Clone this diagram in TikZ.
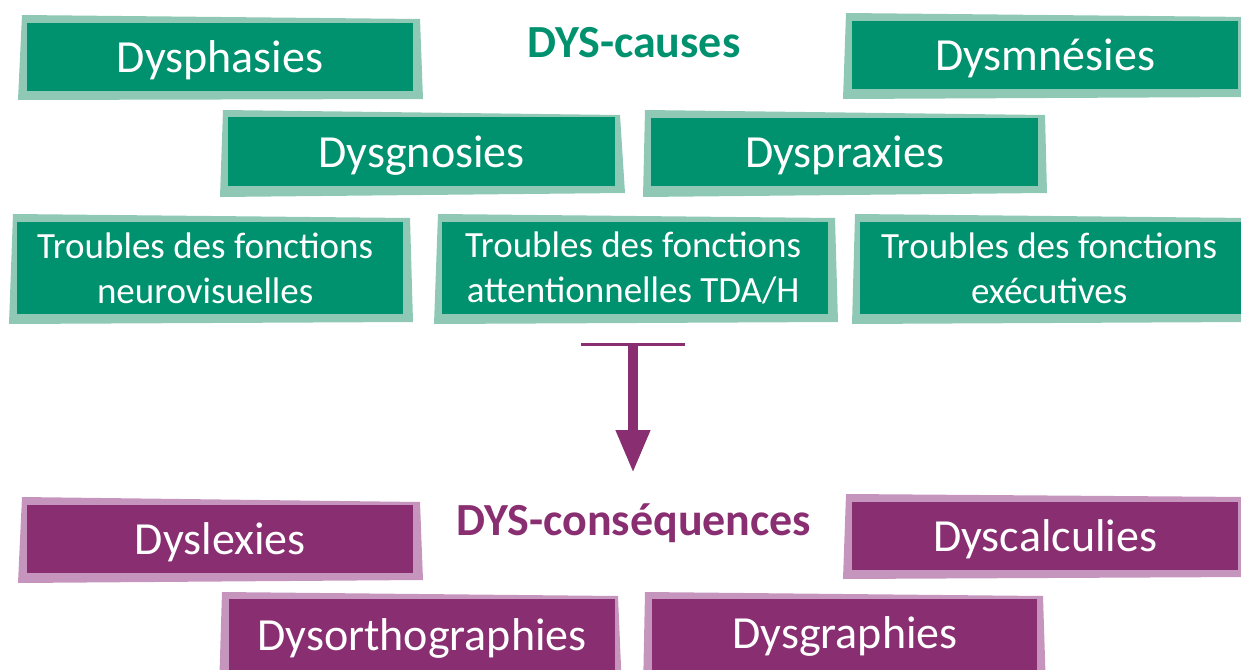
\documentclass[tikz,border=0pt]{standalone}
\usepackage{fontspec}
\setmainfont{Carlito}
\usetikzlibrary{arrows.meta}
\definecolor{gdark}{RGB}{0,145,110}
\definecolor{glight}{RGB}{143,200,181}
\definecolor{pdark}{RGB}{137,46,113}
\definecolor{plight}{RGB}{198,149,189}
\tikzset{
  gbox/.style={fill=gdark, text=white, inner sep=0pt, anchor=north west},
  pbox/.style={fill=pdark, text=white, inner sep=0pt, anchor=north west},
  gframe/.style={fill=glight},
  pframe/.style={fill=plight},
  bigtxt/.style={font=\fontsize{46}{55}\selectfont, text=white, yshift=-3.5pt},
  smalltxt/.style={font=\fontsize{37}{45}\selectfont, align=center, text=white},
  titletxt/.style={font=\fontsize{46}{55}\selectfont\bfseries},
}
\begin{document}
\begin{tikzpicture}[x=1pt,y=-1pt]
\useasboundingbox (0,0) rectangle (1241,669);
\begin{scope}
\clip (0,0) rectangle (1241,669);
% ---------- causes ----------
\fill[gframe] (22,15) -- (420,19) -- (423,99) -- (18,100) -- cycle;
\node[gbox, minimum width=386pt, minimum height=68pt] (dysphasies) at (27,23) {};
\node[bigtxt] at (dysphasies.center) {Dysphasies};

\fill[gframe] (846,13) -- (1250,17) -- (1250,97) -- (843,99) -- cycle;
\node[gbox, minimum width=386pt, minimum height=68pt] (dysmnesies) at (852,21) {};
\node[bigtxt] at (dysmnesies.center) {Dysmnésies};

\fill[gframe] (223,110) -- (620,115) -- (625,193) -- (220,197) -- cycle;
\node[gbox, minimum width=387pt, minimum height=69pt] (dysgnosies) at (228,117) {};
\node[bigtxt] at (dysgnosies.center) {Dysgnosies};

\fill[gframe] (645,110) -- (1045,115) -- (1047,193) -- (643,197) -- cycle;
\node[gbox, minimum width=387pt, minimum height=68pt] (dyspraxies) at (651,118) {};
\node[bigtxt] at (dyspraxies.center) {Dyspraxies};

\fill[gframe] (13,214) -- (410,218) -- (413,322) -- (9,324) -- cycle;
\node[gbox, minimum width=386pt, minimum height=92pt] (neuro) at (17,222) {};
\node[smalltxt] at ([xshift=-5pt]neuro.center) {Troubles des fonctions\\neurovisuelles};

\fill[gframe] (438,214) -- (835,218) -- (838,322) -- (434,324) -- cycle;
\node[gbox, minimum width=386pt, minimum height=92pt] (attent) at (442,222) {};
\node[smalltxt] at ([xshift=-2pt]attent.center) {Troubles des fonctions\\attentionnelles TDA/H};

\fill[gframe] (855,214) -- (1250,218) -- (1250,322) -- (852,324) -- cycle;
\node[gbox, minimum width=390pt, minimum height=92pt] (execut) at (860,222) {};
\node[smalltxt] at ([xshift=-6pt]execut.center) {Troubles des fonctions\\exécutives};

\node[titletxt, text=gdark] (causes) at (634,43) {DYS-causes};

% ---------- arrow ----------
\coordinate (barl) at (581,344);
\coordinate (barr) at (685,344);
\coordinate (barc) at (633,344);
\coordinate (tip) at (633,473);
\draw[pdark, line width=3pt] (barl) -- (barr);
\draw[pdark, line width=10pt, -{Triangle[length=43pt,width=32pt]}] (barc) -- (tip);

% ---------- consequences ----------
\node[titletxt, text=pdark] (conseq) at (634,523) {DYS-conséquences};

\fill[pframe] (22,497) -- (420,502) -- (423,580) -- (18,583) -- cycle;
\node[pbox, minimum width=386pt, minimum height=68pt] (dyslexies) at (27,505) {};
\node[bigtxt] at (dyslexies.center) {Dyslexies};

\fill[pframe] (846,494) -- (1250,497) -- (1250,577) -- (843,579) -- cycle;
\node[pbox, minimum width=386pt, minimum height=68pt] (dyscalc) at (852,502) {};
\node[bigtxt] at (dyscalc.center) {Dyscalculies};

\fill[pframe] (222,592) -- (618,596) -- (622,690) -- (219,690) -- cycle;
\node[pbox, minimum width=386pt, minimum height=80pt] (dysortho) at (229,599) {};
\node[bigtxt] at (422,635) {Dysorthographies};

\fill[pframe] (645,592) -- (1043,596) -- (1046,690) -- (643,690) -- cycle;
\node[pbox, minimum width=385pt, minimum height=80pt] (dysgraph) at (652,599) {};
\node[bigtxt] at (845,633) {Dysgraphies};
\end{scope}
\end{tikzpicture}
\end{document}
